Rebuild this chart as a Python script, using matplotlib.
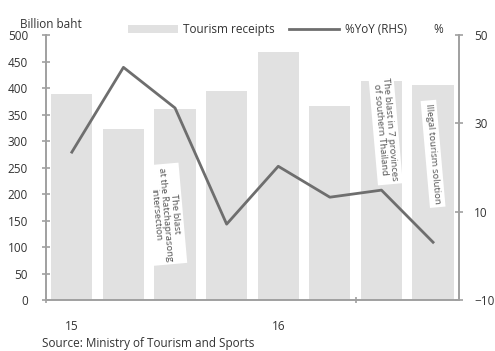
import numpy as np
import matplotlib.pyplot as plt

# quarterly tourism receipts (billion baht) and growth (%YoY)
quarters = ['1Q15', '2Q15', '3Q15', '4Q15', '1Q16', '2Q16', '3Q16', '4Q16']
receipts = [388, 323, 360, 394, 468, 366, 413, 406]
yoy = [23.5, 42.7, 33.5, 7.2, 20.3, 13.3, 14.9, 3.1]
year_labels = ['15', '16']
year_pos = [0, 4]

events = [
    ('The blast\nat the Ratchaprasong\nintersection', 1.82, 162),
    ('The blast in 7 provinces\nof southern Thailand', 6.08, 322),
    ('Illegal tourism solution', 7.0, 276),
]

txt = '#333333'
spine = '#a0a0a0'
plt.rcParams['font.family'] = ['Open Sans', 'DejaVu Sans']

fig = plt.figure(figsize=(4.95, 3.51), dpi=100)
ax = fig.add_axes([0.093, 0.145, 0.834, 0.755])
ax2 = ax.twinx()

x = np.arange(len(quarters))
ax.bar(x, receipts, width=0.8, color='#e1e1e1', label='Tourism receipts', zorder=1)
ax2.plot(x, yoy, color='#6e6e6e', lw=2, label='%YoY (RHS)', zorder=3)

ax.set_xlim(-0.5, 7.5)
ax.set_ylim(0, 500)
ax.set_yticks(range(0, 501, 50))
ax2.set_ylim(-10, 50)
ax2.set_yticks([-10, 10, 30, 50])

ax.set_xticks([-0.5, 5.5])
ax.set_xticklabels([])
for lbl, p in zip(year_labels, year_pos):
    ax.text(p, -0.1, lbl, transform=ax.get_xaxis_transform(), ha='center',
            va='center', fontsize=8.5, color=txt)

for a in (ax, ax2):
    a.spines['top'].set_visible(False)
    for s in ('left', 'right', 'bottom'):
        a.spines[s].set_color(spine)
        a.spines[s].set_linewidth(1.2)
    a.tick_params(colors=spine, labelcolor=txt, labelsize=8.5, length=6,
                  width=1.2, direction='inout')
ax.tick_params(axis='y', pad=10)
ax2.tick_params(axis='y', pad=8)
ax.tick_params(axis='x', length=5)

for label, xp, yp in events:
    ax.text(xp, yp, label, rotation=-85, ha='center', va='center',
            fontsize=6.8, color='#555555', linespacing=1.05, zorder=5,
            rotation_mode='anchor',
            bbox=dict(boxstyle='square,pad=0.35', fc='white', ec='none'))

fig.text(0.04, 0.93, 'Billion baht', fontsize=8.5, color=txt, va='center')
fig.text(0.885, 0.915, '%', fontsize=8.5, color=txt, va='center', ha='center')
fig.text(0.085, 0.002, 'Source: Ministry of Tourism and Sports', fontsize=8.5,
         color=txt, va='bottom')

h1, l1 = ax.get_legend_handles_labels()
h2, l2 = ax2.get_legend_handles_labels()
fig.legend(h1 + h2, l1 + l2, loc='center', bbox_to_anchor=(0.54, 0.915),
           ncol=2, frameon=False, fontsize=8.5, handlelength=4.2,
           handleheight=0.6, columnspacing=1.2, handletextpad=0.5,
           labelcolor=txt)

fig.savefig('out.png', dpi=100)
